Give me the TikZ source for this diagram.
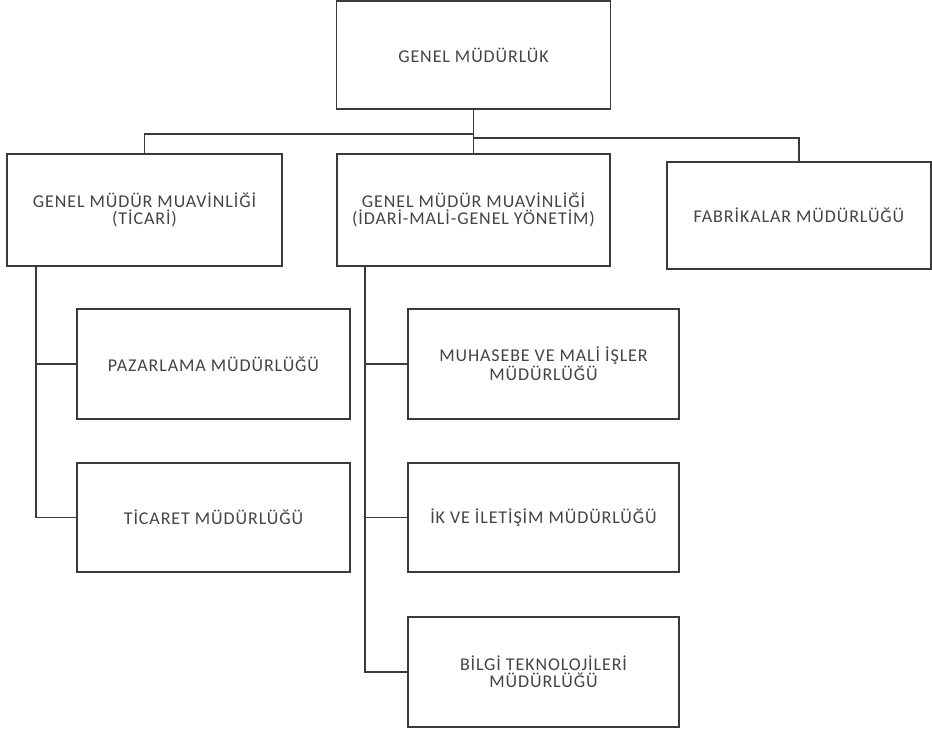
\documentclass[tikz,border=0pt]{standalone}
\usepackage{fontspec}
\setmainfont{Carlito}[LetterSpace=5]
\definecolor{linecol}{HTML}{3A3A3A}
\definecolor{textcol}{HTML}{444444}
\begin{document}
\begin{tikzpicture}[x=1pt,y=-1pt,
  orgbox/.style={draw=linecol, line width=1.9pt, fill=white, rectangle, inner sep=0pt,
    align=center, text=textcol, font=\fontsize{18}{17}\selectfont},
  conn/.style={draw=linecol, line width=1.9pt}]
\useasboundingbox (0,0) rectangle (932,731);
\node[orgbox, minimum width=274pt, minimum height=108pt] (G) at (473.5,55) {GENEL MÜDÜRLÜK};
\node[orgbox, minimum width=275pt, minimum height=112pt] (L) at (144.5,210) {GENEL MÜDÜR MUAVİNLİĞİ\\(TİCARİ)};
\node[orgbox, minimum width=273pt, minimum height=112pt] (M) at (473.5,210) {GENEL MÜDÜR MUAVİNLİĞİ\\(İDARİ-MALİ-GENEL YÖNETİM)};
\node[orgbox, minimum width=264pt, minimum height=107pt] (R) at (799,215.5) {FABRİKALAR MÜDÜRLÜĞÜ};
\node[orgbox, minimum width=273pt, minimum height=110pt] (P) at (213.5,364) {PAZARLAMA MÜDÜRLÜĞÜ};
\node[orgbox, minimum width=273pt, minimum height=109pt] (T) at (213.5,517.5) {TİCARET MÜDÜRLÜĞÜ};
\node[orgbox, minimum width=271pt, minimum height=110pt] (MU) at (543.5,364) {MUHASEBE VE MALİ İŞLER\\MÜDÜRLÜĞÜ};
\node[orgbox, minimum width=271pt, minimum height=109pt] (IK) at (543.5,517.5) {İK VE İLETİŞİM MÜDÜRLÜĞÜ};
\node[orgbox, minimum width=271pt, minimum height=110pt] (B) at (543.5,672) {BİLGİ TEKNOLOJİLERİ\\MÜDÜRLÜĞÜ};
% connectors
\coordinate (hubL) at ([yshift=-24pt]G.south);
\coordinate (hubR) at ([yshift=-28pt]G.south);
\coordinate (lt) at ([xshift=30pt]L.south west);
\coordinate (mt) at ([xshift=29pt]M.south west);
\draw[conn] (G.south) -- (M.north);
\draw[conn] (hubL) -| (L.north);
\draw[conn] (hubR) -| (R.north);
\draw[conn] (lt) |- (T.west);
\draw[conn] (lt) |- (P.west);
\draw[conn] (mt) |- (B.west);
\draw[conn] (mt) |- (MU.west);
\draw[conn] (mt) |- (IK.west);
\end{tikzpicture}
\end{document}
